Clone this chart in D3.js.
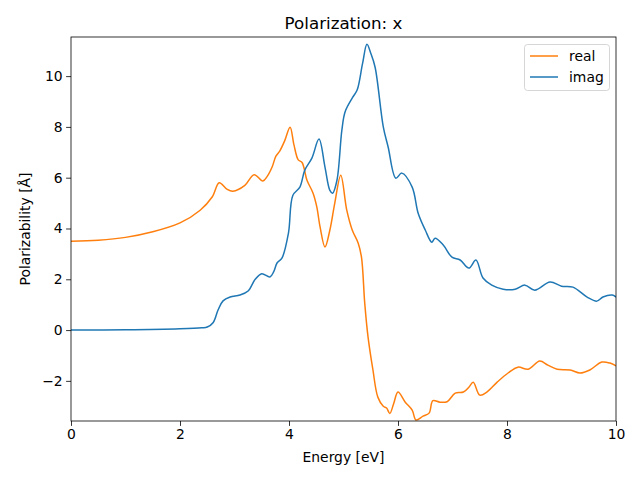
<!DOCTYPE html>
<html><head><meta charset="utf-8">
<script src="https://cdn.jsdelivr.net/npm/d3@7"></script>
<style>body{margin:0;background:#fff}svg{display:block}text{font-family:"DejaVu Sans",sans-serif}</style>
</head><body>
<script>
const realX = [0,0.5,1.0,1.5,2.0,2.37,2.59,2.72,2.86,2.97,3.19,3.36,3.52,3.6,3.69,3.76,3.83,3.92,4.02,4.09,4.17,4.24,4.33,4.44,4.51,4.57,4.66,4.75,4.84,4.95,5.06,5.16,5.27,5.33,5.39,5.45,5.54,5.63,5.73,5.79,5.85,5.92,6.0,6.13,6.26,6.33,6.46,6.57,6.64,6.77,6.9,7.05,7.2,7.3,7.38,7.5,7.63,7.82,8.02,8.2,8.39,8.6,8.75,8.92,9.16,9.34,9.52,9.74,9.89,10];
const realY = [3.5,3.54,3.65,3.87,4.22,4.72,5.24,5.8,5.55,5.47,5.7,6.12,5.87,6.05,6.42,6.85,7.05,7.45,7.99,7.3,6.7,6.6,5.9,5.4,4.85,4.06,3.27,3.94,5.0,6.1,4.72,3.94,3.42,2.87,1.05,-0.27,-1.57,-2.64,-3.0,-3.07,-3.28,-2.9,-2.44,-2.83,-3.15,-3.54,-3.39,-3.27,-2.78,-2.84,-2.82,-2.48,-2.44,-2.25,-2.05,-2.56,-2.44,-2.05,-1.69,-1.46,-1.54,-1.22,-1.38,-1.54,-1.57,-1.69,-1.57,-1.26,-1.30,-1.41];
const imagX = [0,1,2,2.4,2.5,2.61,2.7,2.79,2.92,3.1,3.25,3.38,3.5,3.65,3.72,3.78,3.87,3.99,4.07,4.2,4.29,4.42,4.55,4.66,4.75,4.8,4.88,4.97,5.03,5.17,5.25,5.35,5.43,5.5,5.58,5.73,5.82,5.96,6.07,6.26,6.37,6.5,6.62,6.68,6.83,6.99,7.14,7.3,7.43,7.56,7.72,7.93,8.15,8.33,8.51,8.79,9.0,9.21,9.47,9.65,9.76,9.93,10];
const imagY = [0,0.01,0.05,0.09,0.12,0.3,0.8,1.15,1.3,1.38,1.54,2.0,2.22,2.09,2.3,2.64,2.83,3.82,5.3,5.63,6.3,6.77,7.52,6.42,5.5,5.39,5.9,7.87,8.6,9.17,9.45,10.5,11.25,10.9,10.35,8.0,7.2,5.98,6.18,5.63,4.6,3.94,3.46,3.62,3.35,2.87,2.76,2.44,2.76,2.05,1.77,1.61,1.61,1.77,1.57,1.89,1.73,1.69,1.3,1.14,1.3,1.38,1.3];
const xTicks = [0,2,4,6,8,10];
const yTicks = [-2,0,2,4,6,8,10];
const seriesNames = ["real","imag"];
const seriesColors = ["#ff7f0e","#1f77b4"];

const W=640,H=480, L=71, R=616, T=37, B=421;
const svg = d3.select("body").append("svg").attr("width",W).attr("height",H);
const x = d3.scaleLinear().domain([0,10]).range([L,R]);
const y = d3.scaleLinear().domain([-3.58,11.54]).range([B,T]);

svg.append("clipPath").attr("id","c").append("rect").attr("x",L).attr("y",T).attr("width",R-L).attr("height",B-T);
const line = d3.line().x(d=>x(d[0])).y(d=>y(d[1])).curve(d3.curveCatmullRom.alpha(0.5));
const data = [d3.zip(realX,realY), d3.zip(imagX,imagY)];
const g = svg.append("g").attr("clip-path","url(#c)");
data.forEach((d,i)=>{
  g.append("path").attr("d",line(d)).attr("fill","none").attr("stroke",seriesColors[i]).attr("stroke-width",1.5).attr("stroke-linejoin","round");
});

const fmt = v => (v<0?"\u2212":"")+Math.abs(v);
const xa = svg.append("g").attr("transform",`translate(0,${B})`).call(d3.axisBottom(x).tickValues(xTicks).tickFormat(fmt).tickSize(4.9).tickPadding(3.5));
const ya = svg.append("g").attr("transform",`translate(${L},0)`).call(d3.axisLeft(y).tickValues(yTicks).tickFormat(fmt).tickSize(4.9).tickPadding(3.5));
[xa,ya].forEach(a=>{a.select(".domain").remove();a.selectAll("text").attr("font-size",13.9).attr("font-family","DejaVu Sans").attr("fill","#000");a.selectAll("line").attr("stroke","#000").attr("stroke-width",0.8);});
svg.append("rect").attr("x",L).attr("y",T).attr("width",R-L).attr("height",B-T).attr("fill","none").attr("stroke","#000").attr("stroke-width",0.8);

svg.append("text").attr("x",(L+R)/2).attr("y",29).attr("text-anchor","middle").attr("font-size",16.7).text("Polarization: x");
svg.append("text").attr("x",(L+R)/2).attr("y",462).attr("text-anchor","middle").attr("font-size",13.9).text("Energy [eV]");
svg.append("text").attr("transform",`translate(30,${(T+B)/2}) rotate(-90)`).attr("text-anchor","middle").attr("font-size",13.9).text("Polarizability [Å]");

const lg = svg.append("g");
lg.append("rect").attr("x",524.5).attr("y",44.5).attr("width",85).attr("height",46).attr("rx",3).attr("fill","#fff").attr("fill-opacity",0.8).attr("stroke","#ccc").attr("stroke-width",0.8);
seriesNames.forEach((n,i)=>{
  const yy = 56 + i*21;
  lg.append("line").attr("x1",530).attr("x2",558).attr("y1",yy).attr("y2",yy).attr("stroke",seriesColors[i]).attr("stroke-width",1.5);
  lg.append("text").attr("x",569).attr("y",yy+5).attr("font-size",13.9).text(n);
});
</script>
</body></html>
